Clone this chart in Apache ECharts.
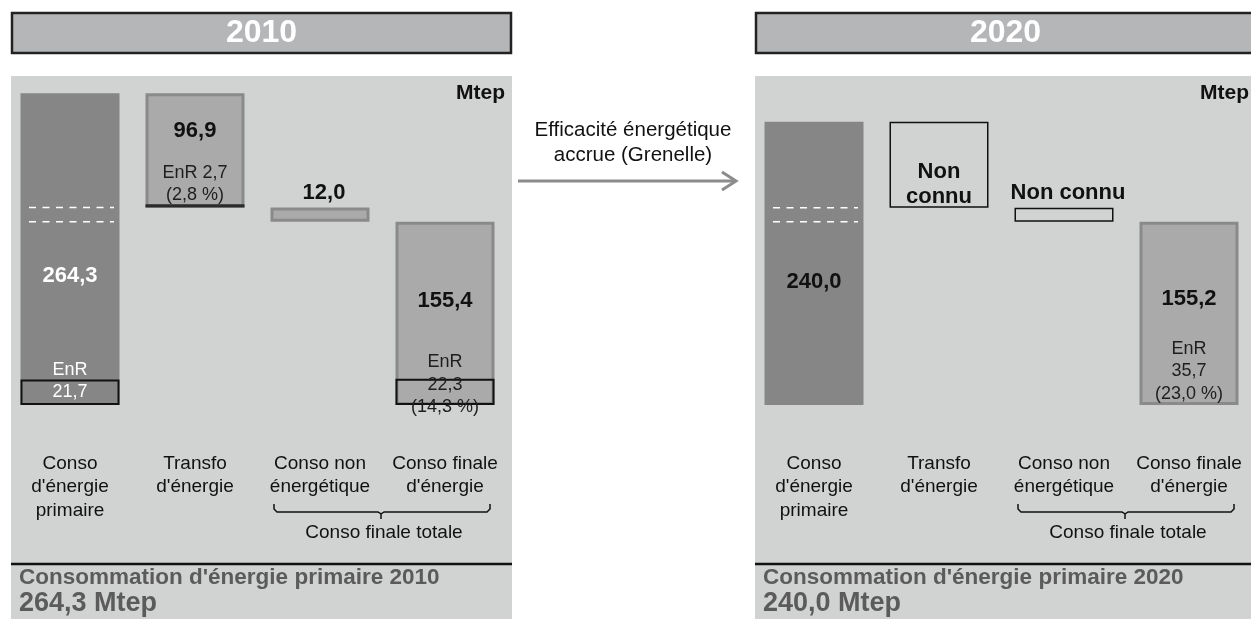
<!DOCTYPE html>
<html>
<head>
<meta charset="utf-8">
<script src="https://cdn.jsdelivr.net/npm/echarts@6/dist/echarts.min.js"></script>
<style>html,body{margin:0;padding:0;background:#fff;}#c{width:1251px;height:619px;}</style>
</head>
<body>
<div id="c"></div>
<script>
// ---- data ----
const categories = ["Conso\nd'énergie\nprimaire", "Transfo\nd'énergie", "Conso non\nénergétique", "Conso finale\nd'énergie"];
const years = ['2010', '2020'];
const base2010 = [0, 167.4, 155.4, 0];
const value2010 = [264.3, 96.9, 12.0, 155.4];
const enr2010 = [21.7, 2.7, null, 22.3];
const enrPct2010 = [null, 2.8, null, 14.3];
const base2020 = [0, 167.2, 155.2, 0];
const value2020 = [240.0, 72.8, 12.0, 155.2];   // transfo & non-energy: unknown (empty boxes)
const known2020 = [true, false, false, true];
const enr2020 = [null, null, null, 35.7];
const enrPct2020 = [null, null, null, 23.0];
const unitLabel = 'Mtep';
const arrowText = "Efficacité énergétique\naccrue (Grenelle)";
const groupLabel = 'Conso finale totale';
const unknownText = 'Non connu';

// ---- helpers ----
const F = "'Liberation Sans', Arial, Helvetica, sans-serif";
const fr = v => v.toFixed(1).replace('.', ',');
const DARK = '#868686', MID = '#aaaaaa', MIDB = '#8a8a8a', PANEL = '#d1d2d2';

const chart = echarts.init(document.getElementById('c'), null, {renderer: 'canvas'});

const boldLbl = (extra) => Object.assign({show: true, fontFamily: F, fontSize: 22, fontWeight: 'bold', color: '#111'}, extra);
const normLbl = (extra) => Object.assign({show: true, fontFamily: F, fontSize: 18, color: '#1e1e1e', lineHeight: 22.5}, extra);

// 2010 items
const val2010Items = value2010.map((v, i) => {
  const it = {value: v};
  if (i === 0) {
    it.itemStyle = {color: DARK};
    it.label = boldLbl({position: 'insideBottom', distance: 118, formatter: fr(v), color: '#fff'});
  } else {
    it.itemStyle = {color: MID, borderColor: MIDB, borderWidth: 3};
    if (i === 1) {
      it.label = {show: true, position: 'insideTop', distance: 26,
        formatter: '{b|' + fr(v) + '}\n{g| }\n{n|EnR ' + fr(enr2010[i]) + '}\n{n|(' + fr(enrPct2010[i]) + ' %)}',
        rich: {
          b: {fontFamily: F, fontSize: 22, fontWeight: 'bold', lineHeight: 24, color: '#111'},
          g: {fontSize: 10, lineHeight: 19},
          n: {fontFamily: F, fontSize: 18, lineHeight: 22, color: '#1e1e1e'}
        }};
    } else if (i === 2) {
      it.label = boldLbl({position: 'top', distance: 4, offset: [4, 0], formatter: fr(v)});
    } else {
      it.label = boldLbl({position: 'inside', offset: [0, -12], formatter: fr(v)});
    }
  }
  return it;
});
const enr2010Items = enr2010.map((v, i) => {
  if (v === null) return '-';
  const it = {value: v};
  if (i === 0) {
    it.itemStyle = {color: 'rgba(0,0,0,0)', borderColor: '#111', borderWidth: 2};
    it.label = normLbl({position: 'inside', offset: [0, -11], lineHeight: 22, color: '#fff', formatter: 'EnR\n' + fr(v)});
  } else if (i === 1) {
    it.itemStyle = {color: '#2b2b2b'};
  } else {
    it.itemStyle = {color: 'rgba(0,0,0,0)', borderColor: '#111', borderWidth: 2};
    it.label = normLbl({position: 'inside', offset: [0, -7], formatter: 'EnR\n' + fr(v) + '\n(' + fr(enrPct2010[i]) + ' %)'});
  }
  return it;
});
const enrBase2010 = enr2010.map((v, i) => v === null ? '-' : base2010[i]);

// 2020 items
const val2020Items = value2020.map((v, i) => {
  const it = {value: v};
  if (i === 0) {
    it.itemStyle = {color: DARK};
    it.label = boldLbl({position: 'insideBottom', distance: 112, formatter: fr(v)});
  } else if (!known2020[i]) {
    it.itemStyle = {color: 'rgba(0,0,0,0)', borderColor: '#111', borderWidth: 1.5};
    if (i === 1) it.label = boldLbl({position: 'insideBottom', distance: 0, offset: [0, 2], lineHeight: 25, formatter: unknownText.replace(' ', '\n')});
    else it.label = boldLbl({position: 'top', distance: 4, offset: [4, 0], formatter: unknownText});
  } else {
    it.itemStyle = {color: MID, borderColor: MIDB, borderWidth: 3};
    it.label = {show: true, position: 'insideBottom', distance: 0,
      formatter: '{b|' + fr(v) + '}\n{g| }\n{n|EnR}\n{n|' + fr(enr2020[i]) + '}\n{n|(' + fr(enrPct2020[i]) + ' %)}',
      rich: {
        b: {fontFamily: F, fontSize: 22, fontWeight: 'bold', lineHeight: 24, color: '#111'},
        g: {fontSize: 10, lineHeight: 26.5},
        n: {fontFamily: F, fontSize: 18, lineHeight: 22.5, color: '#1e1e1e'}
      }};
  }
  return it;
});

const BW = 99;
function dashSeries(gi, base, val) {
  return {
    type: 'custom', xAxisIndex: gi, yAxisIndex: gi, silent: true, z: 5,
    data: [[0, base[2]], [0, base[2] + val[2]]],
    renderItem: (params, api) => {
      const p = api.coord([api.value(0), api.value(1)]);
      return {type: 'line', shape: {x1: p[0] - 41, y1: p[1], x2: p[0] + 44, y2: p[1]},
        style: {stroke: '#ffffff', lineWidth: 1.5, lineDash: [7, 6.5]}};
    }
  };
}

const series = [
  {type: 'bar', xAxisIndex: 0, yAxisIndex: 0, stack: 's0', barWidth: BW, barGap: '-100%', silent: true,
    itemStyle: {color: 'rgba(0,0,0,0)'}, data: base2010},
  {type: 'bar', xAxisIndex: 0, yAxisIndex: 0, stack: 's0', barWidth: BW, barGap: '-100%', silent: true, data: val2010Items},
  {type: 'bar', xAxisIndex: 0, yAxisIndex: 0, stack: 'e0', barWidth: BW, barGap: '-100%', silent: true,
    itemStyle: {color: 'rgba(0,0,0,0)'}, data: enrBase2010},
  {type: 'bar', xAxisIndex: 0, yAxisIndex: 0, stack: 'e0', barWidth: BW, barGap: '-100%', silent: true, data: enr2010Items},
  dashSeries(0, base2010, value2010),
  {type: 'bar', xAxisIndex: 1, yAxisIndex: 1, stack: 's1', barWidth: BW, barGap: '-100%', silent: true,
    itemStyle: {color: 'rgba(0,0,0,0)'}, data: base2020},
  {type: 'bar', xAxisIndex: 1, yAxisIndex: 1, stack: 's1', barWidth: BW, barGap: '-100%', silent: true, data: val2020Items},
  dashSeries(1, base2020, value2020)
];

const panelX = [11, 755];
const panelW = 501;
const totals = [value2010[0], value2020[0]];
const graphics = [];
panelX.forEach((px, gi) => {
  graphics.push({type: 'rect', z: 0, shape: {x: px, y: 76, width: panelW, height: 560}, style: {fill: PANEL}});
  graphics.push({type: 'rect', z: 1, shape: {x: px + 1, y: 13, width: panelW - 2, height: 40}, style: {fill: '#b5b6b8', stroke: '#222', lineWidth: 2.5}});
  graphics.push({type: 'text', z: 2, style: {text: years[gi], x: px + panelW / 2, y: 33.5, fill: '#fff', font: 'bold 32px ' + F, align: 'center', verticalAlign: 'middle', textAlign: 'center', textVerticalAlign: 'middle'}});
  graphics.push({type: 'text', z: 2, style: {text: unitLabel, x: px + 494, y: 93, fill: '#111', font: 'bold 21px ' + F, align: 'right', verticalAlign: 'middle', textAlign: 'right', textVerticalAlign: 'middle'}});
  graphics.push({type: 'line', z: 2, shape: {x1: px, y1: 564, x2: px + panelW, y2: 564}, style: {stroke: '#111', lineWidth: 2.5}});
  graphics.push({type: 'text', z: 2, style: {text: "Consommation d'énergie primaire " + years[gi], x: px + 8, y: 578, fill: '#5b5b5b', font: 'bold 22.5px ' + F, align: 'left', verticalAlign: 'middle', textAlign: 'left', textVerticalAlign: 'middle'}});
  graphics.push({type: 'text', z: 2, style: {text: fr(totals[gi]) + ' ' + unitLabel, x: px + 8, y: 604, fill: '#5b5b5b', font: 'bold 27px ' + F, align: 'left', verticalAlign: 'middle', textAlign: 'left', textVerticalAlign: 'middle'}});
  // brace under the last two categories
  const L = px + 263, R = px + 479, M = px + 370;
  graphics.push({type: 'polyline', z: 2, shape: {points: [[L, 504], [L, 509], [L + 3, 512], [M - 3, 512], [M, 514], [M, 519]]}, style: {stroke: '#111', lineWidth: 1.5, fill: null}});
  graphics.push({type: 'polyline', z: 2, shape: {points: [[R, 504], [R, 509], [R - 3, 512], [M + 3, 512], [M, 514]]}, style: {stroke: '#111', lineWidth: 1.5, fill: null}});
  graphics.push({type: 'text', z: 2, style: {text: groupLabel, x: M + 3, y: 533, fill: '#111', font: '19px ' + F, align: 'center', verticalAlign: 'middle', textAlign: 'center', textVerticalAlign: 'middle'}});
});
// arrow between the panels
graphics.push({type: 'text', z: 2, style: {text: arrowText, x: 633, y: 142.5, fill: '#111', font: '20.5px ' + F, lineHeight: 25, align: 'center', verticalAlign: 'middle', textAlign: 'center', textVerticalAlign: 'middle'}});
graphics.push({type: 'line', z: 2, shape: {x1: 518, y1: 181, x2: 735, y2: 181}, style: {stroke: '#8c8c8c', lineWidth: 3}});
graphics.push({type: 'polyline', z: 2, shape: {points: [[722, 172], [736, 181], [722, 190]]}, style: {stroke: '#8c8c8c', lineWidth: 3, fill: null}});

const grids = [0, 1].map(gi => ({left: panelX[gi] - 3.5, width: 500, top: 86.4, height: 318.6, containLabel: false, outerBoundsMode: 'none'}));

chart.setOption({
  backgroundColor: '#ffffff',
  animation: false,
  grid: grids,
  xAxis: [0, 1].map(gi => ({
    type: 'category', gridIndex: gi, data: categories,
    axisLine: {show: false}, axisTick: {show: false}, splitLine: {show: false},
    axisLabel: {interval: 0, margin: 47, fontSize: 19, lineHeight: 23.5, color: '#111', fontFamily: F, verticalAlign: 'top'}
  })),
  yAxis: [0, 1].map(gi => ({type: 'value', gridIndex: gi, min: 0, max: 270, show: false})),
  graphic: {elements: graphics},
  series: series
});
</script>
</body>
</html>
